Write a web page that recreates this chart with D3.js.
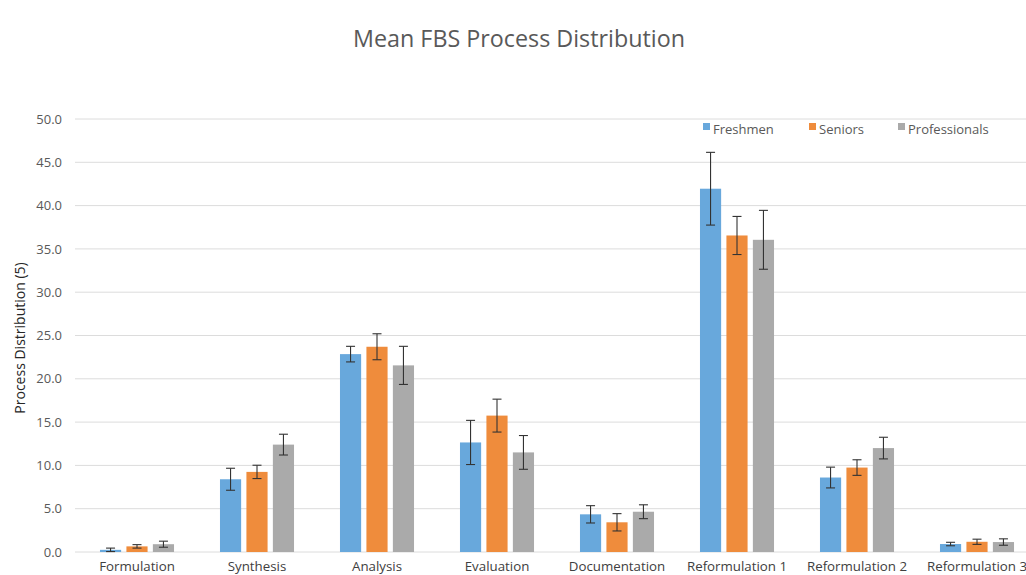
<!DOCTYPE html>
<html>
<head>
<meta charset="utf-8">
<script src="https://cdn.jsdelivr.net/npm/d3@7"></script>
<style>
html,body{margin:0;padding:0;background:#fff;overflow:hidden;}
svg{display:block;font-family:"Open Sans","Noto Sans",sans-serif;}
</style>
</head>
<body>
<svg id="chart" width="1026" height="575"></svg>
<script>
const categories = ["Formulation","Synthesis","Analysis","Evaluation","Documentation","Reformulation 1","Reformulation 2","Reformulation 3"];
const seriesNames = ["Freshmen","Seniors","Professionals"];
const freshmen = [0.25, 8.4, 22.85, 12.65, 4.35, 41.95, 8.6, 0.92];
const seniors = [0.65, 9.25, 23.7, 15.75, 3.43, 36.55, 9.75, 1.18];
const professionals = [0.9, 12.4, 21.55, 11.5, 4.65, 36.05, 12.0, 1.15];
const freshmenErr = [0.2, 1.27, 0.9, 2.55, 1.0, 4.2, 1.2, 0.2];
const seniorsErr = [0.2, 0.77, 1.5, 1.9, 1.0, 2.2, 0.9, 0.3];
const professionalsErr = [0.35, 1.2, 2.2, 1.95, 0.8, 3.4, 1.25, 0.37];
const yTicks = [0,5,10,15,20,25,30,35,40,45,50];
const colors = ["#68A8DC","#EF8C3C","#AAAAAA"];

const values = [freshmen, seniors, professionals];
const errs = [freshmenErr, seniorsErr, professionalsErr];

const svg = d3.select("#chart");
const y = d3.scaleLinear().domain([0,50]).range([552,119]);
const x0 = d3.scaleBand().domain(categories).range([77,1037]);
const groupW = x0.bandwidth()*0.617;
const x1 = d3.scaleBand().domain(seriesNames).range([0,groupW]).paddingInner(0.2);

// gridlines
svg.append("g").selectAll("line").data(yTicks).join("line")
  .attr("x1",75).attr("x2",1026)
  .attr("y1",d=>y(d)).attr("y2",d=>y(d))
  .attr("stroke","#dcdcdc").attr("stroke-width",1);

// y axis labels
const yAxis = d3.axisLeft(y).tickValues(yTicks).tickFormat(d3.format(".1f")).tickSize(0).tickPadding(0);
const ya = svg.append("g").attr("transform","translate(62,0)").call(yAxis);
ya.select(".domain").remove();
ya.selectAll("text").attr("font-size",13).attr("fill","#595959").attr("font-family","'Open Sans',sans-serif");

// x axis labels
const xAxis = d3.axisBottom(x0).tickSize(0).tickPadding(0);
const xa = svg.append("g").attr("transform","translate(0,562)").call(xAxis);
xa.select(".domain").remove();
xa.selectAll("text").attr("font-size",13.3).attr("fill","#404040").attr("font-family","'Open Sans',sans-serif");

// bars
const groups = svg.append("g").selectAll("g").data(categories).join("g")
  .attr("transform",d=>`translate(${x0(d)+(x0.bandwidth()-groupW)/2},0)`);

seriesNames.forEach((s,si)=>{
  groups.append("rect")
    .attr("x",x1(s)).attr("width",x1.bandwidth())
    .attr("y",(d,i)=>y(values[si][i]))
    .attr("height",(d,i)=>y(0)-y(values[si][i]))
    .attr("fill",colors[si]);
});

// error bars
seriesNames.forEach((s,si)=>{
  const cx = x1(s)+x1.bandwidth()/2;
  const g = groups.append("g").attr("stroke","#333").attr("stroke-width",1.1);
  g.append("line").attr("x1",cx).attr("x2",cx)
    .attr("y1",(d,i)=>y(values[si][i]+errs[si][i]))
    .attr("y2",(d,i)=>y(Math.max(0,values[si][i]-errs[si][i])));
  g.append("line").attr("x1",cx-4.5).attr("x2",cx+4.5)
    .attr("y1",(d,i)=>y(values[si][i]+errs[si][i]))
    .attr("y2",(d,i)=>y(values[si][i]+errs[si][i]));
  g.append("line").attr("x1",cx-4.5).attr("x2",cx+4.5)
    .attr("y1",(d,i)=>y(Math.max(0,values[si][i]-errs[si][i])))
    .attr("y2",(d,i)=>y(Math.max(0,values[si][i]-errs[si][i])));
});

// title
svg.append("text").attr("x",519).attr("y",47).attr("text-anchor","middle")
  .attr("font-size",23.3).attr("fill","#595959").text("Mean FBS Process Distribution");

// y axis title
svg.append("text").attr("transform","translate(25,338) rotate(-90)")
  .attr("text-anchor","middle").attr("font-size",14).attr("fill","#262626")
  .attr("font-family","'Open Sans',sans-serif")
  .text("Process Distribution (5)");

// legend
const legendX = [703,809,898];
const lg = svg.append("g").selectAll("g").data(seriesNames).join("g")
  .attr("transform",(d,i)=>`translate(${legendX[i]},129)`);
lg.append("rect").attr("x",0).attr("y",-6).attr("width",7).attr("height",7).attr("fill",(d,i)=>colors[i]);
lg.append("text").attr("x",10).attr("y",4.5).attr("font-size",13).attr("fill","#595959").text(d=>d);
</script>
</body>
</html>
